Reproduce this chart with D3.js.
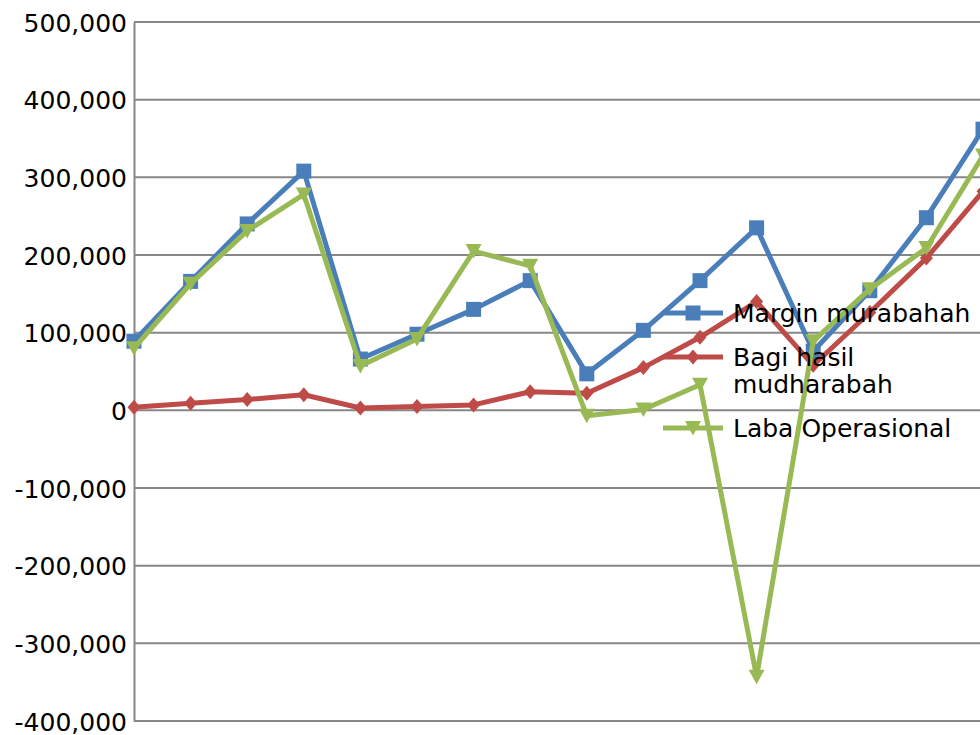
<!DOCTYPE html>
<html>
<head>
<meta charset="utf-8">
<script src="https://cdn.jsdelivr.net/npm/d3@7"></script>
<style>
  html, body { margin: 0; padding: 0; background: #fff; overflow: hidden; }
  svg { display: block; font-family: "DejaVu Sans", sans-serif; }
</style>
</head>
<body>
<div id="chart"></div>
<script>
// Data (no category labels are shown on the chart)
var categories = ["1", "2", "3", "4", "5", "6", "7", "8", "9", "10", "11", "12", "13", "14", "15", "16"];
var marginMurabahah = [89000, 166000, 240000, 308000, 66000, 98000, 130000, 167000, 47000, 103000, 167000, 235000, 76000, 154000, 248000, 362000];
var bagiHasilMudharabah = [4000, 9000, 14000, 20000, 3000, 5000, 7000, 24000, 22000, 55000, 94000, 140000, 58000, 126000, 196000, 282000];
var labaOperasional = [80000, 163000, 231000, 278000, 57000, 92000, 205000, 186000, -7000, 1000, 33000, -343000, 89000, 156000, 209000, 328000];
var yTicks = [-400000, -300000, -200000, -100000, 0, 100000, 200000, 300000, 400000, 500000];
var seriesNames = ["Margin murabahah", "Bagi hasil\nmudharabah", "Laba Operasional"];

var width = 980, height = 735;
var plotLeft = 134, plotTop = 22, plotBottom = 721, plotRight = 983;

var svg = d3.select("#chart").append("svg")
    .attr("width", width)
    .attr("height", height);

var x = d3.scalePoint()
    .domain(categories)
    .range([plotLeft, plotRight]);

var y = d3.scaleLinear()
    .domain([-400000, 500000])
    .range([plotBottom, plotTop]);

// Gridlines
svg.append("g")
    .selectAll("line")
    .data(yTicks)
    .enter()
    .append("line")
    .attr("x1", plotLeft)
    .attr("x2", width)
    .attr("y1", function (d) { return y(d); })
    .attr("y2", function (d) { return y(d); })
    .attr("stroke", "#878787")
    .attr("stroke-width", 2);

// Y axis, plain hyphen for negatives like the original
var fmt = d3.format(",");
var yAxis = d3.axisLeft(y)
    .tickValues(yTicks)
    .tickSize(0)
    .tickPadding(7)
    .tickFormat(function (d) { return fmt(d).replace("\u2212", "-"); });

var gy = svg.append("g")
    .attr("transform", "translate(" + plotLeft + ",0)")
    .call(yAxis);
gy.select(".domain").attr("stroke", "#878787").attr("stroke-width", 2);
gy.selectAll("text")
    .attr("font-size", 25)
    .attr("font-family", "DejaVu Sans, sans-serif")
    .attr("fill", "#000")
    .attr("dy", "0.36em");

var series = [
    { name: seriesNames[0], values: marginMurabahah, color: "#4A7EBB", marker: "square" },
    { name: seriesNames[1], values: bagiHasilMudharabah, color: "#BE4B48", marker: "diamond" },
    { name: seriesNames[2], values: labaOperasional, color: "#98B954", marker: "triangle" }
];

function markerPath(type) {
    if (type === "square") return "M-7.5,-7.5H7.5V7.5H-7.5Z";
    if (type === "diamond") return "M0,-7.5L6.5,0L0,7.5L-6.5,0Z";
    return "M-8,-7L8,-7L0,7.5Z";
}

var line = d3.line()
    .x(function (d, i) { return x(categories[i]); })
    .y(function (d) { return y(d); });

series.forEach(function (s) {
    var g = svg.append("g");
    g.append("path")
        .datum(s.values)
        .attr("d", line)
        .attr("fill", "none")
        .attr("stroke", s.color)
        .attr("stroke-width", 5)
        .attr("stroke-linejoin", "round");
    g.selectAll(".marker")
        .data(s.values)
        .enter()
        .append("path")
        .attr("class", "marker")
        .attr("d", markerPath(s.marker))
        .attr("transform", function (d, i) { return "translate(" + x(categories[i]) + "," + y(d) + ")"; })
        .attr("fill", s.color);
});

// Legend
var legendRows = [313, 357, 428];
var legend = svg.append("g");
series.forEach(function (s, i) {
    var ly = legendRows[i];
    legend.append("line")
        .attr("x1", 663).attr("x2", 723)
        .attr("y1", ly).attr("y2", ly)
        .attr("stroke", s.color)
        .attr("stroke-width", 5);
    legend.append("path")
        .attr("d", markerPath(s.marker))
        .attr("transform", "translate(693," + ly + ")")
        .attr("fill", s.color);
    var t = legend.append("text")
        .attr("x", 733)
        .attr("y", ly)
        .attr("font-size", 25)
        .attr("fill", "#000");
    s.name.split("\n").forEach(function (part, j) {
        t.append("tspan")
            .attr("x", 733)
            .attr("dy", j === 0 ? "0.36em" : 27)
            .text(part);
    });
});
</script>
</body>
</html>
